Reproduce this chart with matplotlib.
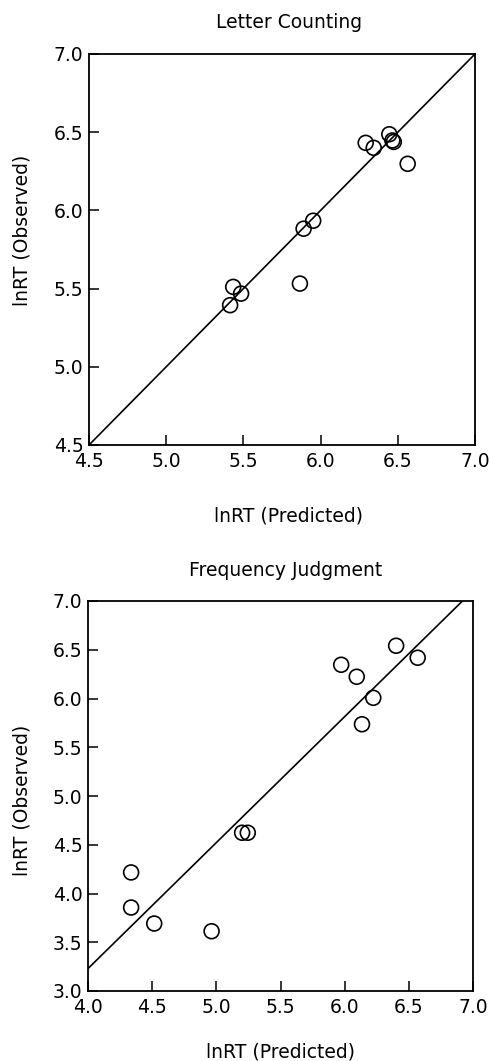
import matplotlib
matplotlib.use("Agg")
import matplotlib.pyplot as plt
import numpy as np

# ---- data ----
lc_predicted = [5.434, 5.485, 5.414, 5.890, 5.952, 5.866, 6.292, 6.344, 6.445, 6.465, 6.474, 6.564]
lc_observed  = [5.511, 5.468, 5.394, 5.883, 5.934, 5.532, 6.432, 6.400, 6.487, 6.447, 6.438, 6.298]

fj_predicted = [4.336, 4.336, 4.516, 4.963, 5.201, 5.245, 5.973, 6.094, 6.223, 6.135, 6.401, 6.569]
fj_observed  = [4.216, 3.856, 3.692, 3.613, 4.623, 4.623, 6.346, 6.223, 6.007, 5.736, 6.541, 6.418]

fj_fit_intercept = -1.938
fj_fit_slope = 1.292

lc_ticks = [4.5, 5.0, 5.5, 6.0, 6.5, 7.0]
fj_xticks = [4.0, 4.5, 5.0, 5.5, 6.0, 6.5, 7.0]
fj_yticks = [3.0, 3.5, 4.0, 4.5, 5.0, 5.5, 6.0, 6.5, 7.0]

titles = ["Letter Counting", "Frequency Judgment"]
xlabel = "lnRT (Predicted)"
ylabel = "lnRT (Observed)"

W, H = 491, 1061
fig = plt.figure(figsize=(W / 100, H / 100), dpi=100)
plt.rcParams['font.family'] = ['DejaVu Sans']

FS = 13.5


def px_axes(l, r, t, b):
    return [l / W, 1 - b / H, (r - l) / W, (b - t) / H]


def style(ax, xt, yt):
    for s in ax.spines.values():
        s.set_linewidth(1.3)
        s.set_color('black')
    ax.set_xticks(xt)
    ax.set_yticks(yt)
    ax.set_xticklabels([f"{v:.1f}" for v in xt], fontsize=FS)
    ax.set_yticklabels([f"{v:.1f}" for v in yt], fontsize=FS)
    ax.tick_params(direction='in', length=7, width=1.1, top=False, right=False)
    ax.tick_params(axis='x', pad=5)
    ax.tick_params(axis='y', pad=4)


# top panel
ax1 = fig.add_axes(px_axes(89, 475, 54, 445))
ax1.plot([4.5, 7.0], [4.5, 7.0], color='black', lw=1.2)
ax1.scatter(lc_predicted, lc_observed, s=115, facecolors='none',
            edgecolors='black', linewidths=1.2, zorder=3)
ax1.set_xlim(4.5, 7.0)
ax1.set_ylim(4.5, 7.0)
style(ax1, lc_ticks, lc_ticks)

# bottom panel
ax2 = fig.add_axes(px_axes(88, 473, 601, 991))
lx = np.array([4.0, 7.0])
ax2.plot(lx, fj_fit_intercept + fj_fit_slope * lx, color='black', lw=1.2)
ax2.scatter(fj_predicted, fj_observed, s=115, facecolors='none',
            edgecolors='black', linewidths=1.2, zorder=3)
ax2.set_xlim(4.0, 7.0)
ax2.set_ylim(3.0, 7.0)
style(ax2, fj_xticks, fj_yticks)

# titles and labels
fig.text(289 / W, 1 - 23 / H, titles[0], ha='center', va='center', fontsize=FS)
fig.text(286 / W, 1 - 570 / H, titles[1], ha='center', va='center', fontsize=FS)
fig.text(288 / W, 1 - 516 / H, xlabel, ha='center', va='center', fontsize=FS)
fig.text(280 / W, 1 - 1052 / H, xlabel, ha='center', va='center', fontsize=FS)
fig.text(22 / W, 1 - 230 / H, ylabel, ha='center', va='center', rotation=90, fontsize=FS)
fig.text(22 / W, 1 - 800 / H, ylabel, ha='center', va='center', rotation=90, fontsize=FS)

fig.savefig("out.png", dpi=100)
